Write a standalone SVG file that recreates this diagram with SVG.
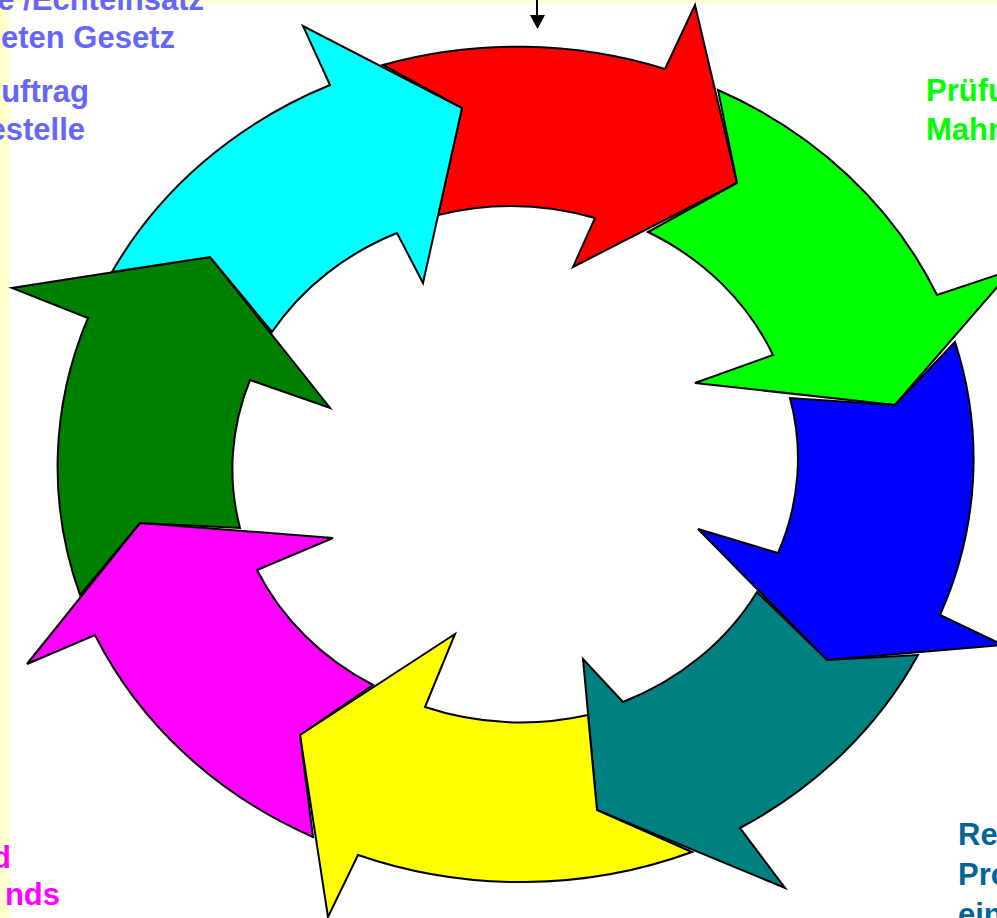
<svg xmlns="http://www.w3.org/2000/svg" width="997" height="918" viewBox="0 0 997 918">
<style>
.arr{stroke:#000;stroke-width:2;stroke-linejoin:miter}
.t{font-family:"Liberation Sans",Arial,sans-serif;font-weight:bold;font-size:31px}
.lb{fill:#6666FF}
</style>
<defs>
<marker id="ah" markerWidth="8" markerHeight="8" refX="4" refY="7" orient="auto" markerUnits="userSpaceOnUse" viewBox="0 0 8 8">
</marker>
</defs>
<rect x="0" y="0" width="997" height="918" fill="#FFFFFF"/>
<rect x="0" y="0" width="997" height="3" fill="#FFFFCC"/>
<rect x="0" y="0" width="9" height="918" fill="#FFFFCC"/>

<g id="arrow-red"><path class="arr" fill="#FF0000" d="M383 65 A458 415 0 0 1 665 69 L695 5 L737 183 L573 267 L595 218 A280 255 0 0 0 438 215 L462 108 Z"/></g>
<g id="arrow-green"><path class="arr" fill="#00FF00" d="M718 90 A458 415 0 0 1 937 295 L1012 270 L895 405 L695 383 L773 355 A280 255 0 0 0 648 232 L737 183 Z"/></g>
<g id="arrow-blue"><path class="arr" fill="#0000FF" d="M955 342 A458 415 0 0 1 940 615 L1003 645 L827 660 L698 529 L778 553 A280 255 0 0 0 790 398 L895 405 Z"/></g>
<g id="arrow-teal"><path class="arr" fill="#008080" d="M918 655 A458 415 0 0 1 740 828 L785 888 L597 810 L583 659 L623 702 A280 255 0 0 0 757 592 L827 660 Z"/></g>
<g id="arrow-yellow"><path class="arr" fill="#FFFF00" d="M692 852 A458 415 0 0 1 358 855 L328 917 L300 735 L455 634 L425 707 A280 255 0 0 0 588 715 L597 810 Z"/></g>
<g id="arrow-magenta"><path class="arr" fill="#FF00FF" d="M313 837 A458 415 0 0 1 95 635 L27 664 L140 523 L333 538 L257 570 A280 255 0 0 0 373 685 L300 735 Z"/></g>
<g id="arrow-darkgreen"><path class="arr" fill="#008000" d="M80 595 A458 415 0 0 1 88 318 L12 288 L210 257 L330 408 L250 380 A280 255 0 0 0 240 528 L140 523 Z"/></g>
<g id="arrow-cyan"><path class="arr" fill="#00FFFF" d="M112 272 A458 415 0 0 1 330 85 L303 26 L462 108 L423 283 L397 233 A280 255 0 0 0 272 332 L210 257 Z"/></g>

<g id="connectors">
<line x1="537" y1="0" x2="537" y2="16" stroke="#000" stroke-width="2"/>
<polygon points="530,15 545,15 537.5,29" fill="#000"/>
</g>

<g id="label-top-left">
<text class="t lb" x="204" y="10" text-anchor="end">e /Echteinsatz</text>
<text class="t lb" x="175" y="48" text-anchor="end">eten Gesetz</text>
</g>
<g id="label-left">
<text class="t lb" x="89" y="102" text-anchor="end">uftrag</text>
<text class="t lb" x="85" y="140" text-anchor="end">estelle</text>
</g>
<g id="label-right">
<text class="t" fill="#00FF00" x="926" y="101">Prüfu</text>
<text class="t" fill="#00FF00" x="926" y="140">Mahn</text>
</g>
<g id="label-bottom-right">
<text class="t" fill="#006699" x="958" y="845">Re</text>
<text class="t" fill="#006699" x="958" y="885">Pro</text>
<text class="t" fill="#006699" x="958" y="925">ein</text>
</g>
<g id="label-bottom-left">
<text class="t" fill="#FF00FF" x="11" y="868" text-anchor="end">d</text>
<text class="t" fill="#FF00FF" x="60" y="905" text-anchor="end">nds</text>
</g>
</svg>
